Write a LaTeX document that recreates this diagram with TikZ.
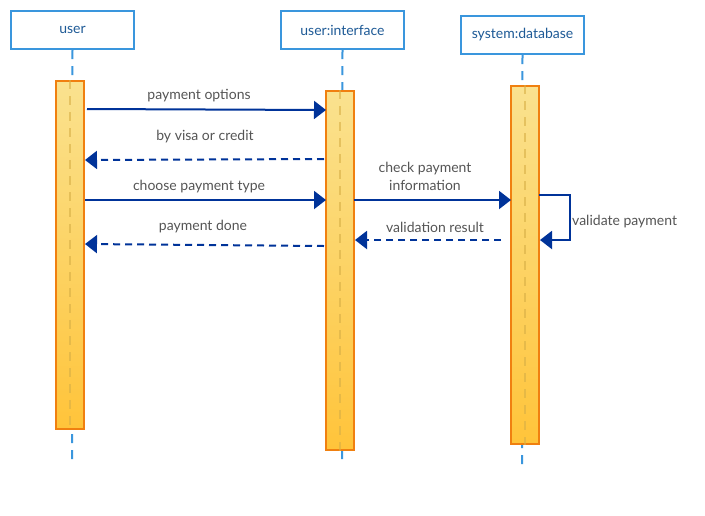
\documentclass[tikz,border=0pt]{standalone}
\usepackage{fontspec}
\setmainfont{Lato}
\usetikzlibrary{arrows.meta}
\definecolor{boxblue}{RGB}{58,150,221}
\definecolor{boxtext}{RGB}{30,90,150}
\definecolor{msgblue}{RGB}{0,51,153}
\definecolor{msgtext}{RGB}{85,85,85}
\definecolor{actorange}{RGB}{240,128,16}
\definecolor{acttop}{RGB}{250,226,143}
\definecolor{actbot}{RGB}{255,196,58}
\definecolor{innerdash}{RGB}{215,175,70}
\tikzset{
  x=1pt,y=-1pt,
  lifebox/.style={draw=boxblue,line width=2pt,fill=white,minimum width=123pt,minimum height=38pt,inner sep=0pt,font=\fontsize{14}{16}\selectfont,text=boxtext},
  lifeline/.style={draw=boxblue,line width=2pt,dash pattern=on 9pt off 7pt},
  actbox/.style={draw=actorange,line width=2pt,top color=acttop,bottom color=actbot,inner sep=0pt,minimum width=28pt},
  innerline/.style={draw=innerdash,line width=1.5pt,dash pattern=on 9pt off 7pt,opacity=0.6},
  msg/.style={draw=msgblue,line width=2pt,-{Triangle[length=12pt,width=18pt]}},
  reply/.style={msg,dash pattern=on 7pt off 5pt},
  lbl/.style={font=\fontsize{14}{18}\selectfont,text=msgtext,inner sep=0pt,align=center}
}
\begin{document}
\begin{tikzpicture}
\useasboundingbox[fill=white] (0,0) rectangle (705,515);
% lifeline heads
\node[lifebox] (u) at (72.5,30) {user};
\node[lifebox] (ui) at (342.5,30) {user:interface};
\node[lifebox] (db) at (522.5,35) {system:database};
% lifeline ends
\coordinate (uend) at (72,464);
\coordinate (uiend) at (342,464);
\coordinate (dbend) at (522,469);
\draw[lifeline] (u.south) -- (uend);
\draw[lifeline] (ui.south) -- (uiend);
\draw[lifeline] (db.south) -- (dbend);
% activations
\node[actbox,minimum height=348pt] (ua) at (70,255) {};
\node[actbox,minimum height=359pt] (uia) at (340,270.5) {};
\node[actbox,minimum height=358pt] (dba) at (525,265) {};
\draw[innerline] (ua.north) -- (ua.south);
\draw[innerline] (uia.north) -- (uia.south);
\draw[innerline] (dba.north) -- (dba.south);
% message points
\coordinate (m1s) at (87,109);
\coordinate (m1e) at (326,110);
\coordinate (m2s) at (324,159);
\coordinate (m2e) at (85,160);
\coordinate (m3s) at (85,200);
\coordinate (m3e) at (326,200);
\coordinate (m4s) at (324,246);
\coordinate (m4e) at (85,244);
\coordinate (m5s) at (354,200);
\coordinate (m5e) at (511,200);
\coordinate (m6s) at (501,240);
\coordinate (m6e) at (355,240);
\coordinate (m7s) at (539,195);
\coordinate (m7e) at (540,240);
% messages
\draw[msg] (m1s) -- (m1e);
\draw[reply] (m2s) -- (m2e);
\draw[msg] (m3s) -- (m3e);
\draw[reply] (m4s) -- (m4e);
\draw[msg] (m5s) -- (m5e);
\draw[reply] (m6s) -- (m6e);
\draw[msg] (m7s) -- (570,195) -- (570,240) -- (m7e);
% labels
\node[lbl] (l1) at (199,96) {payment options};
\node[lbl] (l2) at (205,137) {by visa or credit};
\node[lbl] (l3) at (199,187) {choose payment type};
\node[lbl] (l4) at (203,227) {payment done};
\node[lbl] (l5) at (425,176) {check payment\\information};
\node[lbl] (l6) at (435,227) {validation result};
\node[lbl,anchor=west] (l7) at (572,222) {validate payment};
\end{tikzpicture}
\end{document}
